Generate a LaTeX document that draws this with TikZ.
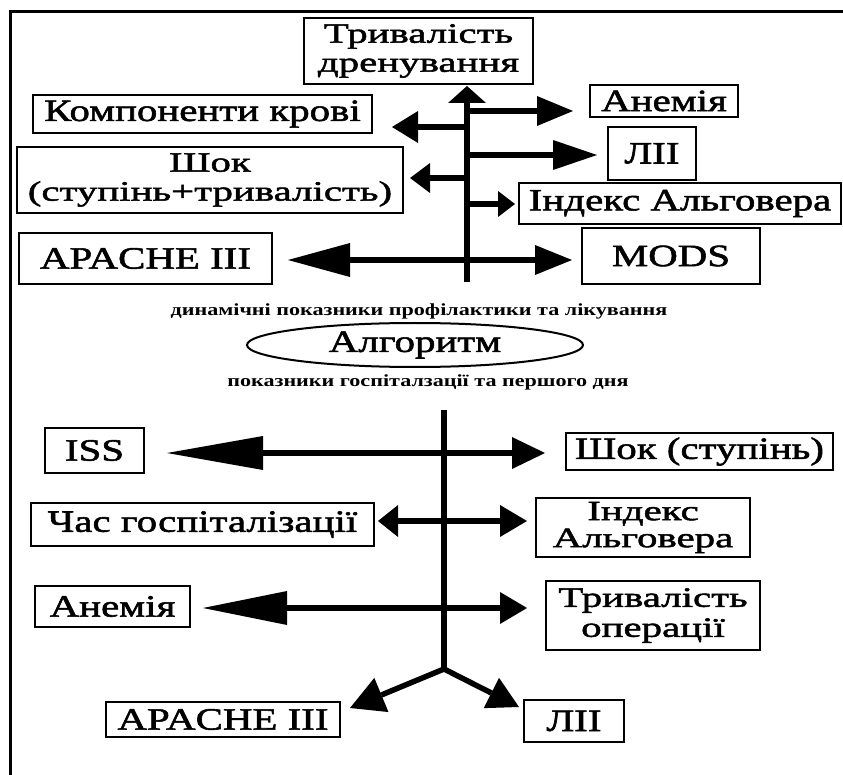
\documentclass[tikz,border=0pt]{standalone}
\usepackage{fontspec}
\setmainfont{Liberation Serif}[FakeStretch=1.32,FakeBold=1.8]
\newfontfamily\twofam{Liberation Serif}[FakeStretch=1.46,FakeBold=1.8]
\newfontfamily\smallfam{Liberation Serif}[FakeStretch=1.3]
\usetikzlibrary{arrows.meta,shapes.geometric}
\newcommand{\bigtxt}{\fontsize{31}{27}\selectfont}
\newcommand{\twotxt}[1]{\twofam\fontsize{28}{#1}\selectfont}
\newcommand{\smalltxt}{\smallfam\fontsize{17}{20}\selectfont\bfseries}
\tikzset{
  box/.style={draw, line width=1.7pt, inner sep=0pt, align=center, font=\bigtxt},
  conn/.style={line width=5.5pt},
  trunkline/.style={line width=6.5pt},
  lowtrunk/.style={line width=5.5pt},
}
\newcommand{\tip}[2]{Triangle[length=#1pt,width=#2pt,line width=0pt]}
\begin{document}
\begin{tikzpicture}[x=1pt,y=-1pt]
\useasboundingbox (0,0) rectangle (843,775);
\fill[white] (0,0) rectangle (843,775);
% frame
\draw[line width=3pt] (10,775) -- (10,12) -- (843,12);
% ---------- top section boxes
\node[box, minimum width=229pt, minimum height=66pt, font=\twotxt{29}] (td) at (418.5,51) {Тривалість\\дренування};
\node[box, minimum width=339pt, minimum height=38pt] (kk) at (202.5,114) {Компоненти крові};
\node[box, minimum width=386pt, minimum height=66pt, font=\twotxt{29}] (sh) at (210,180) {Шок\\(ступінь+тривалість)};
\node[box, minimum width=253pt, minimum height=51pt] (ap) at (145.5,258.5) {APACHE III};
\node[box, minimum width=148pt, minimum height=32pt] (an) at (664,101) {Анемія};
\node[box, minimum width=88pt, minimum height=53pt] (lii) at (652,153.5) {ЛІІ};
\node[box, minimum width=322pt, minimum height=41pt] (ia) at (680,203.5) {Індекс Альговера};
\node[box, minimum width=178pt, minimum height=56pt] (mods) at (671,256) {MODS};
% top trunk
\coordinate (tb) at (467,282);
\coordinate (tt) at (467,86);
\draw[trunkline, -{\tip{17}{38}}] (tb) -- (tt);
\coordinate (j1) at (467,111); \coordinate (e1) at (573,111);
\coordinate (j2) at (467,127); \coordinate (e2) at (392,127);
\coordinate (j3) at (467,155); \coordinate (e3) at (597,155);
\coordinate (j4) at (467,178); \coordinate (e4) at (410,178);
\coordinate (j5) at (467,204); \coordinate (e5) at (515,204);
\coordinate (e6a) at (288,260); \coordinate (e6b) at (572,260);
\draw[conn, -{\tip{36}{30}}] (j1) -- (e1);
\draw[conn, -{\tip{26}{32}}] (j2) -- (e2);
\draw[conn, -{\tip{44}{30}}] (j3) -- (e3);
\draw[conn, -{\tip{20}{30}}] (j4) -- (e4);
\draw[conn, -{\tip{17}{26}}] (j5) -- (e5);
\draw[conn, {\tip{62}{34}}-{\tip{37}{30}}] (e6a) -- (e6b);
% ---------- middle
\node[font=\smalltxt] (dyn) at (419,311) {динамічні показники профілактики та лікування};
\node[draw, ellipse, line width=2pt, minimum width=336pt, minimum height=44pt, inner sep=0pt, font=\bigtxt] (alg) at (415,345) {Алгоритм};
\node[font=\smalltxt] (hos) at (428,382) {показники госпіталзації та першого дня};
% ---------- lower section boxes
\node[box, minimum width=99pt, minimum height=45pt] (iss) at (94.5,450.5) {ISS};
\node[box, minimum width=267pt, minimum height=37pt] (shs) at (699.5,451.5) {Шок (ступінь)};
\node[box, minimum width=343pt, minimum height=43pt] (chg) at (202.5,524.5) {Час госпіталізації};
\node[box, minimum width=214pt, minimum height=59pt, font=\twotxt{27}] (ia2) at (643,527.5) {Індекс\\Альговера};
\node[box, minimum width=155pt, minimum height=41pt] (an2) at (112.5,606.5) {Анемія};
\node[box, minimum width=214pt, minimum height=69pt, font=\twotxt{30}] (to) at (653,615.5) {Тривалість\\операції};
\node[box, minimum width=234pt, minimum height=35pt] (ap2) at (223,719.5) {APACHE III};
\node[box, minimum width=100pt, minimum height=42pt] (lii2) at (574,721) {ЛІІ};
% lower trunk
\coordinate (lt) at (444,410);
\coordinate (lj) at (444,669);
\draw[lowtrunk] (lt) -- (lj);
\coordinate (f1a) at (167,453); \coordinate (f1b) at (545,453);
\coordinate (f2a) at (378,521); \coordinate (f2b) at (527,521);
\coordinate (f3a) at (203,608); \coordinate (f3b) at (527,608);
\draw[conn, {\tip{96}{34}}-{\tip{33}{32}}] (f1a) -- (f1b);
\draw[conn, {\tip{20}{32}}-{\tip{27}{32}}] (f2a) -- (f2b);
\draw[conn, {\tip{84}{34}}-{\tip{27}{32}}] (f3a) -- (f3b);
\coordinate (fl) at (350,708); \coordinate (fr) at (519,707);
\draw[conn, line join=round, -{\tip{34}{37}}] (lj) -- (fl);
\draw[conn, line join=round, -{\tip{31}{34}}] (lj) -- (fr);
\end{tikzpicture}
\end{document}
